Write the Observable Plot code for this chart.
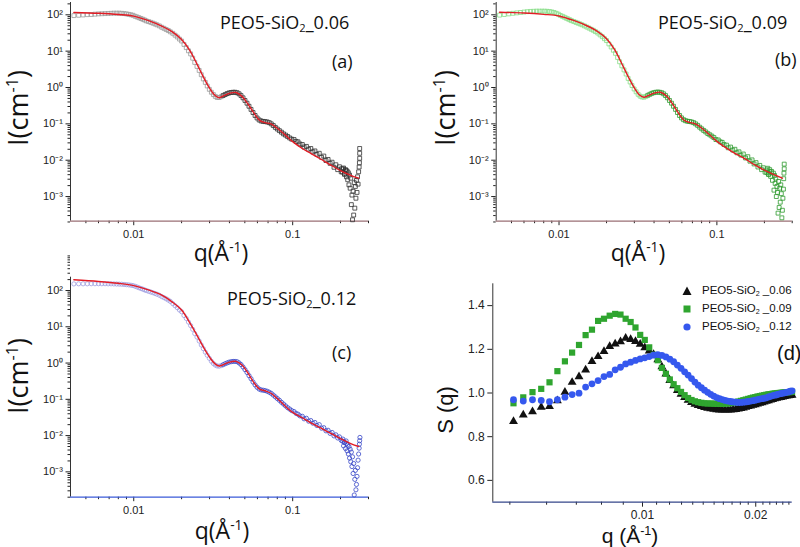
<!DOCTYPE html>
<html><head><meta charset="utf-8">
<script src="https://cdn.jsdelivr.net/npm/d3@7"></script>
<script src="https://cdn.jsdelivr.net/npm/@observablehq/plot@0.6"></script>
<style>
body{margin:0;background:#fff;}
#wrap{position:relative;width:800px;height:547px;overflow:hidden;background:#fff;}
.panel{position:absolute;}
.t{position:absolute;white-space:nowrap;color:#111;line-height:1;}
.t sub{font-size:0.62em;vertical-align:-0.25em;line-height:0;}
.t sup{font-size:0.6em;vertical-align:0.6em;line-height:0;}
</style></head><body><div id="wrap"></div>
<script>
// ---------- SAXS data (panels a, b, c) ----------
const dataQ = [0.0042,0.0045,0.0048,0.0051,0.0054,0.0057,0.006,0.0063,0.0066,0.0069,
0.0072,0.0075,0.0078,0.0081,0.0084,0.0087,0.009,0.0093,0.0096,0.0099,
0.0102,0.0105,0.0108,0.0111,0.0114,0.0117,0.012,0.0124,0.0128,0.0132,
0.0136,0.014,0.0145,0.015,0.0155,0.016,0.0165,0.017,0.0176,0.0182,
0.0188,0.0194,0.02,0.0207,0.0214,0.0221,0.0228,0.0235,0.0242,0.025,
0.0258,0.0266,0.0274,0.0282,0.029,0.0299,0.0308,0.0317,0.0326,0.0335,
0.0345,0.0355,0.0365,0.0376,0.0387,0.0398,0.041,0.0422,0.0434,0.0447,
0.046,0.0473,0.0487,0.0501,0.0516,0.0531,0.0547,0.0563,0.058,0.0597,
0.0615,0.0633,0.0652,0.0671,0.0691,0.0712,0.0733,0.0755,0.0778,0.0801,
0.0825,0.085,0.0876,0.0902,0.0929,0.0957,0.0986,0.102,0.105,0.108,
0.111,0.115,0.118,0.122,0.126,0.13,0.134,0.138,0.142,0.147,
0.152,0.157,0.162,0.167,0.172,0.177,0.182,0.187,0.192,0.197,
0.202,0.207,0.212,0.217];

const dataA = [95,97,99,101,102,104,106,107,108,109,
110,111,111,111,110,108,106,103,100,97,
91,87,83,79,75.5,72,68,65,62,59,
56,53,49.5,45.5,42.5,39.5,37,34,31,27.5,
24.5,21.5,19,15.3,12.5,10.2,8.4,6.4,4.9,3.8,
2.95,2.25,1.72,1.38,1.1,0.89,0.74,0.64,0.57,0.53,
0.53,0.56,0.6,0.64,0.68,0.71,0.73,0.74,0.74,0.72,
0.67,0.6,0.52,0.44,0.37,0.305,0.25,0.205,0.17,0.145,
0.128,0.12,0.117,0.115,0.113,0.108,0.1,0.09,0.08,0.072,
0.065,0.059,0.053,0.049,0.045,0.041,0.038,0.037,0.033,0.032,
0.028,0.027,0.023,0.024,0.02,0.021,0.017,0.018,0.0145,0.0155,
0.012,0.013,0.0098,0.0105,0.0082,0.0088,0.0064,0.0075,0.0055,0.0066,
0.0048,0.0058,0.0041,0.0052];

const dataB = [98,102,106,110,113,116,119,122,124,125,
126,126,126,126,125,123,120,116,110,104,
96,91,86,81,77,73,69,65.5,62,59,
56,53,49.5,46,43,40,37.5,34.5,31.5,28,
25,22,19.5,15.8,13,10.6,8.7,6.7,5.1,3.95,
3.05,2.35,1.78,1.42,1.13,0.91,0.76,0.65,0.58,0.55,
0.54,0.57,0.61,0.65,0.69,0.72,0.74,0.75,0.74,0.72,
0.67,0.6,0.52,0.44,0.37,0.305,0.25,0.205,0.17,0.146,
0.13,0.122,0.118,0.116,0.113,0.108,0.1,0.091,0.081,0.073,
0.066,0.06,0.054,0.05,0.046,0.042,0.037,0.036,0.032,0.031,
0.027,0.026,0.022,0.023,0.019,0.02,0.016,0.017,0.0138,0.0148,
0.0115,0.0125,0.0094,0.0102,0.0079,0.0086,0.0065,0.0072,0.0055,0.0062,
0.0047,0.0054,0.0041,0.0048];

const dataC = [152,153,153,153,154,154,154,154,154,153,
153,152,151,150,149,147,145,143,140,137,
131,125,119,114,109,104,100,95,91,87,
83,79,74,68,63.5,59,54.5,50,43.5,38,
33.5,29,26,20.5,17,13.5,10.8,8.5,6.5,5.2,
4.05,3.15,2.5,2.0,1.64,1.35,1.12,0.97,0.88,0.83,
0.82,0.85,0.9,0.96,1.01,1.06,1.09,1.11,1.11,1.09,
1.01,0.91,0.78,0.66,0.55,0.45,0.37,0.3,0.25,0.215,
0.192,0.182,0.178,0.174,0.167,0.157,0.146,0.131,0.117,0.105,
0.094,0.083,0.074,0.066,0.059,0.054,0.049,0.046,0.041,0.039,
0.035,0.034,0.029,0.03,0.025,0.026,0.022,0.023,0.019,0.02,
0.016,0.0165,0.0135,0.014,0.0115,0.0122,0.0098,0.0105,0.0086,0.0092,
0.0074,0.008,0.0064,0.0071];

// noisy high-q tails
const tailAQ = [0.264,0.264,0.264,0.263,0.262,0.26,0.258,0.256,0.254,0.252,0.25,0.248,0.246,0.244,0.242,0.24,0.238,0.236,0.234,0.232,0.23,0.228,0.226,0.224,0.222,0.22,0.218,0.215,0.212,0.209,0.206,0.203];
const tailAI = [0.021,0.0155,0.0113,0.0085,0.0065,0.0048,0.0022,0.0035,0.0013,0.0028,0.0009,0.0019,0.00048,0.0024,0.00031,0.0014,0.00023,0.0011,0.0006,0.0032,0.0017,0.0039,0.0021,0.0045,0.0029,0.005,0.0035,0.0055,0.0042,0.0061,0.0047,0.0058];
const tailBQ = [0.267,0.267,0.266,0.265,0.264,0.262,0.26,0.258,0.256,0.254,0.252,0.25,0.248,0.246,0.244,0.242,0.24,0.238,0.236,0.234,0.232,0.23,0.228,0.225,0.222,0.219,0.216,0.213,0.21,0.207];
const tailBI = [0.0078,0.0058,0.0044,0.0031,0.0016,0.0009,0.00042,0.00026,0.0012,0.0021,0.0007,0.0017,0.0005,0.0026,0.00035,0.0013,0.0019,0.001,0.0032,0.0023,0.0038,0.0015,0.0044,0.0028,0.0049,0.0036,0.0055,0.0041,0.006,0.0046];
const tailCQ = [0.265,0.264,0.263,0.262,0.26,0.258,0.256,0.254,0.252,0.25,0.248,0.246,0.244,0.242,0.24,0.238,0.236,0.234,0.232,0.23,0.228,0.226,0.224,0.222,0.22,0.218,0.215,0.212,0.209,0.206];
const tailCI = [0.0089,0.0072,0.0058,0.0045,0.0031,0.0021,0.0013,0.00075,0.00045,0.00032,0.0011,0.00062,0.00023,0.0017,0.0009,0.0026,0.0014,0.0035,0.0019,0.0042,0.0024,0.005,0.0031,0.0055,0.0038,0.006,0.0044,0.0066,0.0052,0.007];

// model fits (red lines)
const fitQ = [0.0042,0.006,0.008,0.01,0.0125,0.015,0.0175,0.02,0.0225,0.025,0.0275,0.03,0.0325,0.0345,0.037,0.04,0.044,0.048,0.052,0.057,0.062,0.067,0.073,0.08,0.09,0.1,0.115,0.13,0.15,0.175,0.2,0.23,0.26];
const fitA = [116,110,102,92,68,49,34,21,10.5,4.4,1.9,0.96,0.6,0.525,0.6,0.69,0.73,0.57,0.366,0.2,0.125,0.108,0.1,0.076,0.049,0.0325,0.021,0.0154,0.0108,0.0072,0.0052,0.0039,0.0032];
const fitB = [118,112,103,93,69,50,35,22,11,4.5,1.95,0.98,0.61,0.54,0.61,0.7,0.74,0.58,0.37,0.2,0.126,0.11,0.1,0.077,0.05,0.033,0.0215,0.0155,0.011,0.0073,0.0053,0.004,0.0032];
const fitC = [198,178,158,137,102,75,48,29,13,5.8,2.7,1.45,0.95,0.83,0.92,1.06,1.11,0.88,0.55,0.29,0.19,0.172,0.147,0.105,0.064,0.0435,0.031,0.0225,0.0162,0.0113,0.0082,0.0061,0.005];

// ---------- S(q) data (panel d) ----------
const sQ = [0.00454,0.00482,0.0051,0.00538,0.00566,0.00594,0.00622,0.0065,0.00678,0.00706,
0.00734,0.00762,0.0079,0.00818,0.00846,0.00874,0.00902,0.0093,0.00958,0.00986,
0.01014,0.01042,0.0107,0.01098,0.01126,0.01154,0.01182,0.0121,0.01238,0.01266,
0.01294,0.01322,0.0135,0.01378,0.01406,0.01434,0.01462,0.0149,0.01518,0.01546,
0.01574,0.01602,0.0163,0.01658,0.01686,0.01714,0.01742,0.0177,0.01798,0.01826,
0.01854,0.01882,0.0191,0.01938,0.01966,0.01994,0.02022,0.0205,0.02078,0.02106,
0.02134,0.02162,0.0219,0.02218,0.02246,0.02274,0.02302,0.0233,0.02358,0.02386,
0.02414,0.02442,0.0247,0.02498];
const s06 = [0.870,0.900,0.915,0.935,0.938,0.965,1.004,1.049,1.075,1.106,
1.145,1.167,1.190,1.213,1.225,1.235,1.251,1.245,1.236,1.224,
1.208,1.193,1.177,1.152,1.120,1.087,1.058,1.033,1.012,0.995,
0.980,0.967,0.957,0.949,0.943,0.938,0.934,0.931,0.928,0.926,
0.924,0.923,0.922,0.922,0.922,0.923,0.924,0.925,0.927,0.929,
0.932,0.935,0.938,0.941,0.944,0.947,0.950,0.953,0.956,0.959,
0.962,0.965,0.968,0.971,0.974,0.976,0.978,0.980,0.982,0.984,
0.986,0.988,0.989,0.990];
const s09 = [0.953,0.980,1.004,1.019,1.049,1.100,1.145,1.185,1.220,1.265,
1.290,1.330,1.340,1.354,1.362,1.359,1.340,1.325,1.300,1.266,
1.243,1.209,1.175,1.150,1.115,1.088,1.062,1.040,1.022,1.005,
0.990,0.977,0.968,0.962,0.958,0.955,0.953,0.952,0.952,0.951,
0.951,0.950,0.950,0.951,0.952,0.954,0.956,0.958,0.961,0.964,
0.967,0.970,0.973,0.976,0.979,0.981,0.984,0.986,0.988,0.990,
0.992,0.994,0.995,0.997,0.998,0.999,1.000,1.001,1.002,1.003,
1.003,1.004,1.004,1.005];
const s12 = [0.969,0.963,0.969,0.966,0.960,0.969,0.981,0.993,0.999,1.027,
1.042,1.057,1.075,1.085,1.106,1.118,1.133,1.141,1.149,1.156,
1.161,1.167,1.173,1.176,1.172,1.165,1.155,1.143,1.128,1.113,
1.097,1.082,1.066,1.050,1.036,1.024,1.013,1.003,0.994,0.986,
0.979,0.974,0.970,0.966,0.963,0.961,0.959,0.958,0.957,0.957,
0.958,0.959,0.961,0.963,0.965,0.967,0.970,0.972,0.974,0.976,
0.978,0.982,0.985,0.988,0.990,0.992,0.995,0.997,0.999,1.001,
1.003,1.005,1.008,1.010];

const sampleNames = ["0.06","0.09","0.12"];

// ---------- ticks ----------
const saxsXDomain = [0.004, 0.3];
const saxsXTicks = [0.01, 0.1];
const saxsXMinor = [0.005,0.006,0.007,0.008,0.009,0.02,0.03,0.04,0.05,0.06,0.07,0.08,0.09,0.2,0.3];
const saxsYTicks = [1e-3,1e-2,1e-1,1,10,100];
const saxsYMinor = [];
for (const e of [-4,-3,-2,-1,0,1,2]) for (const m of [2,3,4,5,6,7,8,9]) saxsYMinor.push(+(m*Math.pow(10,e)).toPrecision(3));
const sXDomain = [0.004, 0.025];
const sXTicks = [0.01, 0.02];
const sXMinor = [0.00444,0.00556,0.00667,0.00778,0.00889,0.0109,0.0118,0.0127,0.0136,0.0145,0.0155,0.0164,0.0173,0.0182,0.0191,0.0209,0.0218,0.0227,0.0236,0.0245];
const sYTicks = [0.6,0.8,1.0,1.2,1.4];
const sYDomain = [0.5, 1.5];

const SUP = {"-":"\u207B","0":"\u2070","1":"\u00B9","2":"\u00B2","3":"\u00B3","4":"\u2074"};
const pow10 = d => "10" + String(Math.round(Math.log10(d))).split("").map(c => SUP[c]).join("");

const wrap = document.getElementById("wrap");
const SANS = '"Liberation Sans", Arial, sans-serif';
const CAL = '"Open Sans", "Liberation Sans", sans-serif';

function place(node, left, top) {
  const d = document.createElement("div");
  d.className = "panel";
  d.style.left = left + "px"; d.style.top = top + "px";
  d.appendChild(node);
  wrap.appendChild(d);
}

function saxs(o) {
  const pts = dataQ.map((q, i) => ({q, I: o.I[i]})).concat(o.tq.map((q, i) => ({q, I: o.ti[i]})));
  const fit = fitQ.map((q, i) => ({q, I: o.fit[i]}));
  return Plot.plot({
    width: 400, height: o.h,
    marginLeft: o.ml, marginRight: o.mr, marginTop: o.mt, marginBottom: o.mb,
    style: {fontFamily: SANS, fontSize: "11px", color: "#222", background: "transparent", overflow: "visible"},
    x: {type: "log", domain: saxsXDomain},
    y: {type: "log", domain: o.yDomain},
    marks: [
      Plot.axisX(saxsXMinor, {tickSize: 2.5, tickFormat: () => "", label: null}),
      Plot.axisX(saxsXTicks, {tickSize: 4.5, tickPadding: 4, tickFormat: d => String(d), label: null}),
      Plot.axisY(saxsYMinor, {tickSize: 2.5, tickFormat: () => "", label: null}),
      Plot.axisY(saxsYTicks, {tickSize: 4.5, tickPadding: 3, tickFormat: pow10, label: null}),
      Plot.ruleX([saxsXDomain[0]], {stroke: "#333"}),
      Plot.ruleY([o.yDomain[0]], {stroke: o.base, strokeWidth: 1.2}),
      Plot.dot(pts, {x: "q", y: "I", symbol: o.symbol, r: o.r, fill: "none",
        stroke: d => d.q < o.split ? o.light : o.dark, strokeWidth: 0.8}),
      Plot.line(fit, {x: "q", y: "I", stroke: "#e31c25", strokeWidth: 1.4, curve: "catmull-rom"})
    ]
  });
}

place(saxs({I: dataA, tq: tailAQ, ti: tailAI, fit: fitA, h: 270, ml: 70, mr: 32, mt: 2, mb: 49.3,
  yDomain: [2.1e-4, 218], symbol: "square", r: 2.2, split: 0.036, light: "#9a9a9a", dark: "#333", base: "#9a6f74"}), 0, 0);
place(saxs({I: dataB, tq: tailBQ, ti: tailBI, fit: fitB, h: 270, ml: 95.7, mr: 8.3, mt: 2, mb: 49.3,
  yDomain: [2.1e-4, 218], symbol: "square", r: 2.2, split: 0.036, light: "#86dd86", dark: "#2e9a2e", base: "#9a6f74"}), 400, 0);
place(saxs({I: dataC, tq: tailCQ, ti: tailCI, fit: fitC, h: 277, ml: 70, mr: 32, mt: 6.7, mb: 50.3,
  yDomain: [2e-4, 233], symbol: "circle", r: 2.1, split: 0.036, light: "#9d9de0", dark: "#3848c8", base: "#3a5ad8"}), 0, 270);

// panel d
const sRows = (vals, name) => sQ.map((q, i) => ({q, S: vals[i], name}));
place(Plot.plot({
  width: 400, height: 277, marginLeft: 92.3, marginRight: 8.3, marginTop: 13.3, marginBottom: 45.3,
  style: {fontFamily: SANS, fontSize: "12px", color: "#222", background: "transparent", overflow: "visible"},
  x: {type: "log", domain: sXDomain},
  y: {domain: sYDomain},
  marks: [
    Plot.axisX(sXMinor, {tickSize: 3, tickFormat: () => "", label: null}),
    Plot.axisX(sXTicks, {tickSize: 5, tickPadding: 3, tickFormat: d => String(d), label: null}),
    Plot.axisY(sYTicks, {tickSize: 5, tickPadding: 3, tickFormat: d => d.toFixed(1), label: null}),
    Plot.ruleX([sXDomain[0]], {stroke: "#333"}),
    Plot.ruleY([sYDomain[0]], {stroke: "#34468a", strokeWidth: 1.2}),
    Plot.dot(sRows(s06, sampleNames[0]), {x: "q", y: "S", symbol: "triangle", r: 3.3, fill: "#111"}),
    Plot.dot(sRows(s09, sampleNames[1]), {x: "q", y: "S", symbol: "square", r: 3.5, fill: "#2fa52f"}),
    Plot.dot(sRows(s12, sampleNames[2]), {x: "q", y: "S", symbol: "circle", r: 3.4, fill: "#3558ee"})
  ]
}), 400, 270);

// ---------- text ----------
function txt(html, o) {
  const d = document.createElement("div");
  d.className = "t";
  d.innerHTML = html;
  d.style.fontFamily = o.f || CAL;
  d.style.fontSize = o.s + "px";
  d.style.left = o.x + "px"; d.style.top = o.y + "px";
  if (o.rot) d.style.transform = "translate(-50%,-50%) rotate(-90deg)";
  else if (o.c) d.style.transform = "translate(-50%,-50%)";
  wrap.appendChild(d);
}
const title = n => `PEO5-SiO<sub>2</sub>_${n}`;
txt(title(sampleNames[0]), {x: 220, y: 13, s: 18});
txt("(a)", {x: 332, y: 52, s: 18});
txt(title(sampleNames[1]), {x: 658, y: 13, s: 18});
txt("(b)", {x: 775, y: 50, s: 18});
txt(title(sampleNames[2]), {x: 227, y: 289, s: 18});
txt("(c)", {x: 332, y: 343, s: 18});
txt("(d)", {x: 777, y: 343, s: 20, f: SANS});

const ilab = "I(cm<sup>-1</sup>)";
const qlab = "q(&#197;<sup>-1</sup>)";
txt(ilab, {x: 17, y: 108, s: 27, rot: true});
txt(ilab, {x: 444, y: 108, s: 27, rot: true});
txt(ilab, {x: 17, y: 376, s: 27, rot: true});
txt(qlab, {x: 221, y: 252, s: 23, c: true});
txt(qlab, {x: 638, y: 252, s: 23, c: true});
txt(qlab, {x: 222, y: 530, s: 23, c: true});
txt("S (q)", {x: 446, y: 410, s: 22, f: SANS, rot: true});
txt("q (&#197;<sup>-1</sup>)", {x: 630, y: 535, s: 21, f: SANS, c: true});

// legend (panel d)
const legendSyms = [
  '<svg width="10" height="10"><path d="M5,0.5L9.5,9H0.5Z" fill="#111"/></svg>',
  '<svg width="10" height="10"><rect x="1.5" y="1.5" width="7" height="7" fill="#2fa52f"/></svg>',
  '<svg width="10" height="10"><circle cx="5" cy="5" r="3.6" fill="#3558ee"/></svg>'
];
const legendY = [291, 309, 327.3];
sampleNames.forEach((n, i) => {
  const d = document.createElement("div");
  d.className = "t";
  d.style.left = "682px"; d.style.top = (legendY[i] - 6) + "px";
  d.style.fontFamily = SANS; d.style.fontSize = "11.5px";
  d.style.display = "flex"; d.style.alignItems = "center";
  d.innerHTML = legendSyms[i] + `<span style="margin-left:10px">PEO5-SiO<sub>2</sub> _${n}</span>`;
  wrap.appendChild(d);
});
</script></body></html>
